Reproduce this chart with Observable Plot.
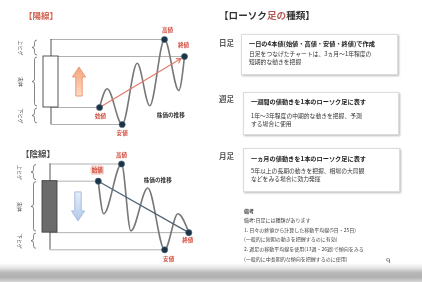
<!DOCTYPE html>
<html><head><meta charset="utf-8">
<script src="https://cdn.jsdelivr.net/npm/d3@7"></script>
<script src="https://cdn.jsdelivr.net/npm/@observablehq/plot@0.6"></script>
<style>
body{margin:0;width:422px;height:282px;position:relative;overflow:hidden;background:#fff;font-family:"Noto Sans CJK JP","Noto Sans",sans-serif;color:#333}
#wrap{position:absolute;left:0;top:0;width:422px;height:282px;filter:blur(0.3px)}
.abs{position:absolute;white-space:nowrap;line-height:1}
.card{position:absolute;background:#fff;border:0.5px solid #dcdcdc;box-shadow:1px 1px 2px rgba(0,0,0,.28)}
.lead{position:absolute;left:7px;font-size:6.2px;font-weight:700;color:#222;white-space:nowrap;line-height:1}
.det{position:absolute;left:7px;font-size:5.8px;color:#333;white-space:nowrap;line-height:1}
.note{position:absolute;left:244px;font-size:5px;color:#444;white-space:nowrap;line-height:1}
.band{position:absolute;left:0;top:263px;width:422px;height:19px;background:linear-gradient(to bottom,#fff 0%,#e6e6e6 25%,#b9b9b9 50%,#b0b0b0 75%,#d8d8d8 100%)}
</style></head><body>
<div id="wrap">
<div id="top" class="abs" style="left:0;top:0"></div>
<div id="bot" class="abs" style="left:0;top:140px"></div>
<div id="right"></div>
<div class="band"></div>
</div>
<script>
// ---- data ----
const ohlcNames = ["始値", "高値", "安値", "終値"];          // open, high, low, close
const braceLabels = ["上ヒゲ", "実体", "下ヒゲ"];
const panelTitles = ["【陽線】", "【陰線】"];
const trendLabel = "株価の推移";
const candleT = -8;

// 陽線 (bullish): open, high, low, close
const yangOHLC = [60, 100, 50, 90];
const yangWaveT = [0, 1.26, 3.73, 6.2, 8.28, 10.7, 13.06, 14];
const yangWaveP = [60, 71, 50, 86, 61, 100, 70, 90];
const yangEventIdx = [0, 5, 2, 7];

// 陰線 (bearish): open, high, low, close
const yinOHLC = [90, 100, 50, 60];
const yinWaveT = [0, 0.9, 3.85, 5.4, 8.2, 11, 13.2, 15];
const yinWaveP = [90, 71, 100, 61, 86, 50, 71, 60];
const yinEventIdx = [0, 2, 5, 7];

const typeTitle = "【ローソク足の種類】";
const typeNames = ["日足", "週足", "月足"];
const typeLeads = [
  "一日の4本値(始値・高値・安値・終値)で作成",
  "一週間の値動きを1本のローソク足に表す",
  "一ヵ月の値動きを1本のローソク足に表す"
];
const typeDetails = [
  ["日足をつなげたチャートは、3ヵ月〜1年程度の", "短期的な動きを把握"],
  ["1年〜3年程度の中期的な動きを把握、予測", "する場合に使用"],
  ["5年以上の長期の動きを把握、相場の大局観", "などをみる場合に効力発揮"]
];
const noteLines = [
  "備考",
  "備考:日足には種類があります",
  "1. 日々の終値から計算した移動平均線(5日・25日)",
  "(一般的に短期の動きを把握するのに有効)",
  "2. 週足の移動平均線を使用(13週・26週)で傾向をみる",
  "(一般的に中長期的な傾向を把握するのに使用)"
];
const pageNumber = "9";

// ---- helpers ----
function braces(segs, color) {
  return (index, scales) => {
    const g = d3.create("svg:g").attr("fill", "none").attr("stroke", color).attr("stroke-width", 0.8);
    const x0 = scales.x(candleT) - 16, w = 2.5;
    for (const [a, b] of segs) {
      const ya = scales.y(a) + 1, yb = scales.y(b) - 1, ym = (ya + yb) / 2;
      g.append("path").attr("d",
        `M${x0 + w},${ya}Q${x0},${ya} ${x0},${ya + w}L${x0},${ym - w}Q${x0},${ym} ${x0 - w},${ym}Q${x0},${ym} ${x0},${ym + w}L${x0},${yb - w}Q${x0},${yb} ${x0 + w},${yb}`);
    }
    return g.node();
  };
}
function blockArrow(dir, fillA, fillB, strokeC, id, midP) {
  return (index, scales) => {
    const cx = scales.x(candleT) + 28.5, cy = scales.y(midP);
    const H = 29, hw = 6.5, sw = 3.2, hh = 10;
    const t = cy - H / 2, b = cy + H / 2;
    const pts = dir > 0
      ? [[cx, t], [cx + hw, t + hh], [cx + sw, t + hh], [cx + sw, b], [cx - sw, b], [cx - sw, t + hh], [cx - hw, t + hh]]
      : [[cx, b], [cx + hw, b - hh], [cx + sw, b - hh], [cx + sw, t], [cx - sw, t], [cx - sw, b - hh], [cx - hw, b - hh]];
    const g = d3.create("svg:g");
    const grad = g.append("defs").append("linearGradient").attr("id", id)
      .attr("x1", 0).attr("y1", 0).attr("x2", 0).attr("y2", 1);
    grad.append("stop").attr("offset", 0).attr("stop-color", fillA);
    grad.append("stop").attr("offset", 1).attr("stop-color", fillB);
    g.append("path").attr("d", "M" + pts.join("L") + "Z")
      .attr("fill", `url(#${id})`).attr("stroke", strokeC).attr("stroke-width", 1);
    return g.node();
  };
}

function candlePanel(cfg) {
  const [o, h, l, c] = cfg.ohlc;
  const wave = cfg.waveT.map((t, i) => ({t, p: cfg.waveP[i]}));
  const events = cfg.eventIdx.map((k, i) => ({t: cfg.waveT[k], p: cfg.waveP[k], label: ohlcNames[i]}));
  const bodyTop = Math.max(o, c), bodyBot = Math.min(o, c), mid = (o + c) / 2;
  const segs = [[h, bodyTop], [bodyTop, bodyBot], [bodyBot, l]];
  const segMid = segs.map(([a, b], i) => ({p: (a + b) / 2, label: braceLabels[i]}));
  const labelMarks = events.map((e, i) => Plot.text([e], {
    x: "t", y: "p", text: "label", dx: cfg.labelDx[i], dy: cfg.labelDy[i],
    fill: "#d0483a", fontSize: 5.6, fontWeight: 700,
    stroke: cfg.labelHalo[i] || "none", strokeWidth: 3
  }));
  const trend = cfg.trendArrow
    ? Plot.arrow([0], {x1: events[0].t, y1: o, x2: events[3].t, y2: c, stroke: cfg.trendColor, strokeWidth: 1.2, headLength: 6, insetEnd: 4})
    : Plot.link([0], {x1: events[0].t, y1: o, x2: events[3].t, y2: c, stroke: cfg.trendColor, strokeWidth: 1.2});
  return Plot.plot({
    width: 210, height: cfg.height,
    marginTop: cfg.mt, marginBottom: cfg.mb, marginLeft: cfg.ml, marginRight: cfg.mr,
    x: {domain: cfg.xDomain, axis: null},
    y: {domain: [l, h], axis: null},
    style: {background: "transparent", overflow: "visible", fontFamily: "'Noto Sans CJK JP', sans-serif"},
    marks: [
      Plot.ruleY(events, {y: "p", x1: candleT, x2: "t", stroke: "#a8a8a8", strokeWidth: 0.9}),
      Plot.ruleX([candleT], {y1: l, y2: h, stroke: "#555", strokeWidth: 1}),
      Plot.rect([0], {x1: candleT, x2: candleT, y1: bodyBot, y2: bodyTop, insetLeft: -7.5, insetRight: -7.5,
        fill: cfg.bodyFill, stroke: "#444", strokeWidth: 0.9}),
      braces(segs, "#666"),
      Plot.text(segMid, {x: candleT, y: "p", text: "label", dx: -30, rotate: 90, fontSize: 5, fill: "#444"}),
      blockArrow(cfg.arrowDir, cfg.arrowA, cfg.arrowB, cfg.arrowStroke, cfg.id, mid),
      Plot.line(wave, {x: "t", y: "p", curve: "monotone-x", stroke: "#777", strokeWidth: 1.6}),
      trend,
      Plot.dot(events, {x: "t", y: "p", r: 3.1, fill: "#1c3446", stroke: "#4c6a80", strokeWidth: 0.6}),
      ...labelMarks,
      Plot.text([wave[cfg.captionIdx]], {x: "t", y: "p", text: () => trendLabel, dx: cfg.captionDx, dy: cfg.captionDy,
        textAnchor: cfg.captionAnchor, fontSize: 5.6, fill: "#333", fontWeight: 700})
    ]
  });
}

document.getElementById("top").append(candlePanel({
  ohlc: yangOHLC, waveT: yangWaveT, waveP: yangWaveP, eventIdx: yangEventIdx,
  height: 140, mt: 39, mb: 16, ml: 50.5, mr: 26, xDomain: [-8, 14],
  bodyFill: "#fff", arrowDir: 1, arrowA: "#f4a47c", arrowB: "#fcdcc6", arrowStroke: "#ec9a72", id: "gUp",
  labelDx: [1, 3, 0, -1], labelDy: [8.5, -9, 9, -11], labelHalo: [],
  trendArrow: true, trendColor: "#e27a6a",
  captionIdx: 6, captionDx: -8, captionDy: 25, captionAnchor: "middle"
}));
document.getElementById("bot").append(candlePanel({
  ohlc: yinOHLC, waveT: yinWaveT, waveP: yinWaveP, eventIdx: yinEventIdx,
  height: 125, mt: 23.5, mb: 15.7, ml: 49.5, mr: 21.7, xDomain: [-8, 15],
  bodyFill: "#6b6b6b", arrowDir: -1, arrowA: "#e6eef9", arrowB: "#b3c9e8", arrowStroke: "#a6bddd", id: "gDown",
  labelDx: [-1, 0, 4, -1], labelDy: [-11, -9, 9, 8], labelHalo: ["#f5d3ca"],
  trendArrow: false, trendColor: "#4d6275",
  captionIdx: 4, captionDx: -4, captionDy: -8, captionAnchor: "start"
}));

// ---- titles & right column ----
const wrap = document.getElementById("right");
function add(html, cls, style) {
  const d = document.createElement("div");
  d.className = cls; d.setAttribute("style", style); d.innerHTML = html; wrap.append(d); return d;
}
add(panelTitles[0], "abs", "left:24px;top:11px;font-size:8.5px;color:#d4604c;font-weight:700");
add(panelTitles[1], "abs", "left:21px;top:149px;font-size:8.5px;color:#4a4a4a;font-weight:700");
add(typeTitle.replace("足の", '<span style="color:#b85a55">足の</span>'), "abs",
  "left:219px;top:10.5px;font-size:9.6px;font-weight:700;color:#333");

const cardBoxes = [
  {l: 241, t: 34, w: 155, h: 39, lab: 38.5, ly: 6, dy: [16, 24]},
  {l: 243, t: 92, w: 154, h: 41, lab: 95, ly: 6, dy: [20, 28]},
  {l: 243, t: 148, w: 155, h: 42, lab: 151.5, ly: 7, dy: [19, 27]}
];
typeNames.forEach((name, i) => {
  const b = cardBoxes[i];
  add(name, "abs", `left:219px;top:${b.lab}px;font-size:7.5px;color:#555;font-weight:700`);
  const card = add("", "card", `left:${b.l}px;top:${b.t}px;width:${b.w}px;height:${b.h}px`);
  const lead = document.createElement("div"); lead.className = "lead"; lead.style.top = b.ly + "px";
  lead.textContent = typeLeads[i]; card.append(lead);
  typeDetails[i].forEach((txt, j) => {
    const d = document.createElement("div"); d.className = "det"; d.style.top = b.dy[j] + "px";
    d.textContent = txt; card.append(d);
  });
});
const noteTops = [207.5, 216.5, 226.5, 235.5, 245.5, 255.5];
noteLines.forEach((txt, i) => add(txt, "note", `top:${noteTops[i]}px;${i === 0 ? "font-weight:700" : ""}`));
add(pageNumber, "abs", "left:386px;top:257px;font-size:8px;color:#555");
</script>
</body></html>
